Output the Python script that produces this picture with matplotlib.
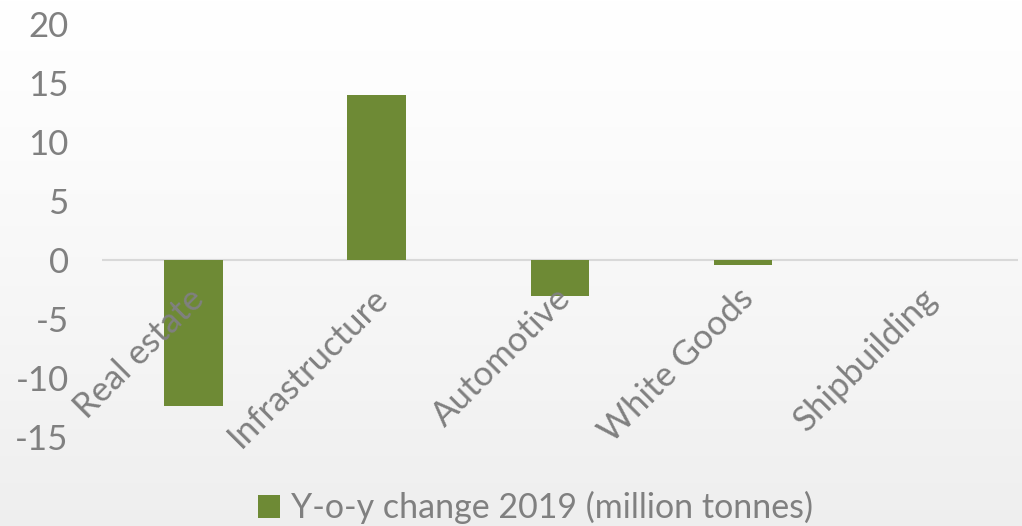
import matplotlib
matplotlib.use("Agg")
import matplotlib.pyplot as plt
import numpy as np
import matplotlib.transforms as mtransforms

categories = ["Real estate", "Infrastructure", "Automotive", "White Goods", "Shipbuilding"]
values = [-12.4, 14.0, -3.0, -0.45, 0.0]
series_name = "Y-o-y change 2019 (million tonnes)"
yticks = [-15, -10, -5, 0, 5, 10, 15, 20]

bar_color = "#6E8A35"
text_color = "#808080"
font = ["Lato", "DejaVu Sans"]

fig = plt.figure(figsize=(10.22, 5.26), dpi=100)

# background gradient
bg = fig.add_axes([0, 0, 1, 1], zorder=-10)
grad = np.linspace(0, 1, 256).reshape(-1, 1)
shade = 1.0 - 0.065 * np.clip(grad, 0, 1) ** 1.2
img = np.repeat(shade[:, :, None], 3, axis=2)
bg.imshow(img, aspect="auto", extent=[0, 1, 0, 1], origin="upper")
bg.axis("off")

ax = fig.add_axes([0.0998, 0.169, 0.896, 0.785])
ax.patch.set_alpha(0)
x = np.arange(len(categories))
ax.bar(x, values, width=0.32, color=bar_color, label=series_name, zorder=1)
ax.set_xlim(-0.5, len(categories) - 0.5)
ax.set_ylim(-15, 20)
ax.set_yticks(yticks)
ax.set_yticklabels([str(v) for v in yticks], fontsize=25, color=text_color, family=font)
ax.tick_params(axis="y", length=0, pad=24)
ax.axhline(0, color="#D9D9D9", lw=1.5, zorder=0.5)
for s in ax.spines.values():
    s.set_visible(False)
ax.spines["bottom"].set_position(("data", 0))
ax.set_xticks(x)
ax.set_xticklabels(categories, rotation=45, ha="right", va="center", rotation_mode="anchor",
                   fontsize=25, color=text_color, family=font)
ax.tick_params(axis="x", length=0, pad=24)
offset = mtransforms.ScaledTranslation(4 / 72, 0, fig.dpi_scale_trans)
for lbl in ax.get_xticklabels():
    lbl.set_transform(lbl.get_transform() + offset)

leg = fig.legend(loc="center", bbox_to_anchor=(0.524, 0.035), frameon=False,
                 prop={"family": font, "size": 24.5}, labelcolor=text_color,
                 handlelength=0.65, handleheight=0.65, handletextpad=0.3)

fig.savefig("out.png", dpi=100)
